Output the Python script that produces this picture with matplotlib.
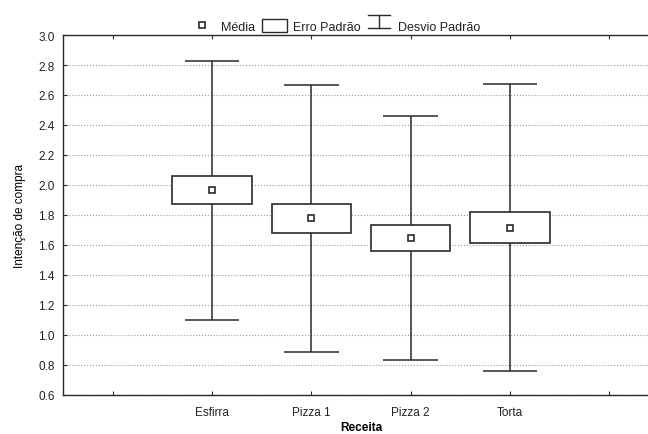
import numpy as np
import matplotlib as mpl, matplotlib.pyplot as plt
from matplotlib.legend_handler import HandlerBase
from matplotlib.lines import Line2D
from matplotlib.patches import Rectangle

## 0.1 data
receitas = ['Esfirra', 'Pizza 1', 'Pizza 2', 'Torta']
media    = [1.965, 1.777, 1.647, 1.716]
erro_pad = [0.093, 0.097, 0.088, 0.104]
desv_pad = [0.865, 0.890, 0.813, 0.958]
yticks   = [0.6, 0.8, 1.0, 1.2, 1.4, 1.6, 1.8, 2.0, 2.2, 2.4, 2.6, 2.8, 3.0]

## 0.2 basic settings
plt.rcParams['font.family'] = ['Liberation Sans', 'DejaVu Sans']
edge = '#2a2a2a'
box_w, cap_w = 0.8, 0.55

## 0.3 legend handler for the whisker glyph
class WhiskerHandler(HandlerBase):
    def create_artists(self, legend, orig_handle, x0, y0, width, height, fontsize, trans):
        cx = x0 + width / 2
        hw = width * 0.45
        top, bot = y0 + height * 0.95, y0 + height * 0.0
        l1 = Line2D([cx - hw, cx + hw], [top, top], color=edge, lw=1.0, transform=trans)
        l2 = Line2D([cx, cx], [top, bot], color=edge, lw=1.0, transform=trans)
        l3 = Line2D([cx - hw, cx + hw], [bot, bot], color=edge, lw=1.0, transform=trans)
        return [l1, l2, l3]

## 1. figure and axes
fig = plt.figure(figsize=(6.48, 4.35), dpi=100)
ax  = fig.add_axes([63/648, 39/435, 596/648, 360/435])

x = np.arange(1, len(receitas) + 1)
m, se, sd = np.array(media), np.array(erro_pad), np.array(desv_pad)

## 2. whiskers (sd), boxes (se), means
ax.vlines(x, m - sd, m + sd, color=edge, lw=1.1, zorder=2)
ax.hlines(m + sd, x - cap_w/2, x + cap_w/2, color=edge, lw=1.1, zorder=2)
ax.hlines(m - sd, x - cap_w/2, x + cap_w/2, color=edge, lw=1.1, zorder=2)
ax.bar(x, 2*se, bottom=m - se, width=box_w, facecolor='white', edgecolor=edge, lw=1.2, zorder=3)
ax.plot(x, m, ls='none', marker='s', ms=4.5, mfc='white', mec=edge, mew=1.2, zorder=4)

## 3. axes style
ax.set_xlim(-0.5, 5.5)
ax.set_ylim(0.6, 3.0)
ax.set_xticks(np.arange(0, 6))
ax.set_xticklabels([''] + receitas + [''])
ax.set_yticks(yticks)
ax.set_yticklabels([f"{v:.1f}" for v in yticks])
ax.tick_params(axis='both', direction='in', length=3, width=0.8, labelsize=8.5, color=edge,
               top=True, labelcolor='#222222')
ax.tick_params(axis='y', pad=6)
ax.tick_params(axis='x', pad=8)
ax.yaxis.grid(True, ls=':', lw=0.8, color='#9a9a9a')
ax.set_axisbelow(True)
for s in ax.spines.values():
    s.set_color(edge); s.set_linewidth(1.0)
ax.set_xlabel('Receita', fontsize=8.5, fontweight='bold', labelpad=2)
ax.set_ylabel('Intenção de compra', fontsize=8.5, labelpad=9)

## 4. legend
h_media = Line2D([], [], ls='none', marker='s', ms=4, mfc='white', mec=edge, mew=1.2)
h_erro  = Rectangle((0, 0), 1, 1, facecolor='white', edgecolor=edge, lw=1.0)
h_desv  = Line2D([], [])
fig.legend([h_media, h_erro, h_desv], ['Média', 'Erro Padrão', 'Desvio Padrão'],
           handler_map={h_desv: WhiskerHandler()}, loc='center', bbox_to_anchor=(0.517, 1 - 27/435),
           ncol=3, frameon=False, fontsize=9, handlelength=2.0, handleheight=1.2,
           handletextpad=0.5, columnspacing=0.5, labelcolor='#222222')

## 5. save
plt.savefig('out.png', dpi=100)
plt.close(fig)
